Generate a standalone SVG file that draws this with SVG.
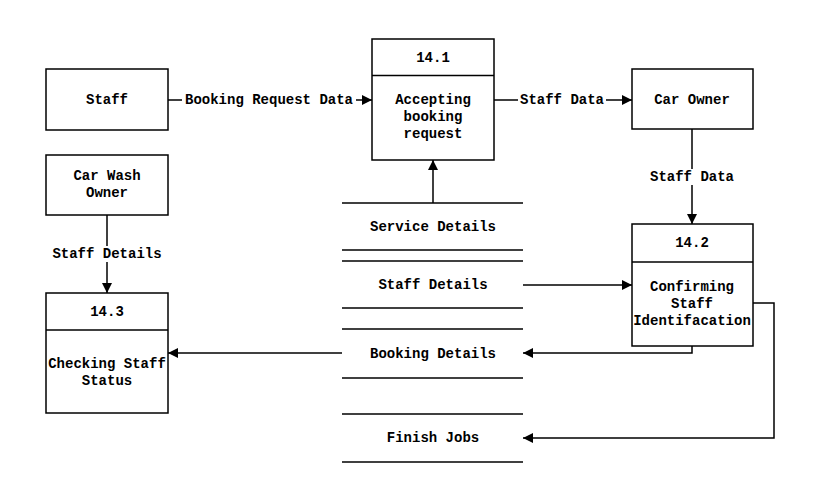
<svg xmlns="http://www.w3.org/2000/svg" width="813" height="503" viewBox="0 0 813 503">
<style>
.b{fill:#fff;stroke:#000;stroke-width:1.5}
.l{fill:none;stroke:#000;stroke-width:1.5}
text{font-family:"Liberation Mono","Courier New",monospace;font-size:14px;font-weight:bold;text-anchor:middle;fill:#000}
.lb{stroke:#fff;stroke-width:0}
</style>
<defs>
<marker id="a" viewBox="0 0 10 10" refX="10" refY="5" markerWidth="10" markerHeight="10" markerUnits="userSpaceOnUse" orient="auto">
<path d="M0,0L10,5L0,10z" fill="#000"/>
</marker>
</defs>
<rect width="813" height="503" fill="#fff"/>
<g id="connectors">
<path class="l" d="M168,100H372" marker-end="url(#a)"/>
<path class="l" d="M494,100H632" marker-end="url(#a)"/>
<path class="l" d="M692,129V224" marker-end="url(#a)"/>
<path class="l" d="M107,215V293" marker-end="url(#a)"/>
<path class="l" d="M433,203V160" marker-end="url(#a)"/>
<path class="l" d="M523,285H632" marker-end="url(#a)"/>
<path class="l" d="M692,346V353H523" marker-end="url(#a)"/>
<path class="l" d="M753,303H774V438H523" marker-end="url(#a)"/>
<path class="l" d="M342,353H168" marker-end="url(#a)"/>
<rect x="182" y="92" width="174" height="16" fill="#fff"/>
<text x="269" y="104">Booking Request Data</text>
<rect x="518" y="92" width="88" height="16" fill="#fff"/>
<text x="562" y="104">Staff Data</text>
<rect x="646" y="169" width="92" height="16" fill="#fff"/>
<text x="692" y="181">Staff Data</text>
<rect x="50" y="246" width="114" height="16" fill="#fff"/>
<text x="107" y="258">Staff Details</text>
</g>
<g id="staff">
<rect class="b" x="46" y="69" width="122" height="61"/>
<text x="107" y="104">Staff</text>
</g>
<g id="p14_1">
<rect class="b" x="372" y="39" width="122" height="121"/>
<line class="l" x1="372" y1="75.5" x2="494" y2="75.5"/>
<text x="433" y="62">14.1</text>
<text x="433" y="104">Accepting</text>
<text x="433" y="121">booking</text>
<text x="433" y="138">request</text>
</g>
<g id="carowner">
<rect class="b" x="632" y="69" width="121" height="60"/>
<text x="692" y="104">Car Owner</text>
</g>
<g id="carwashowner">
<rect class="b" x="46" y="155" width="122" height="60"/>
<text x="107" y="180">Car Wash</text>
<text x="107" y="197">Owner</text>
</g>
<g id="p14_3">
<rect class="b" x="46" y="293" width="122" height="120"/>
<line class="l" x1="46" y1="330" x2="168" y2="330"/>
<text x="107" y="316">14.3</text>
<text x="107" y="368">Checking Staff</text>
<text x="107" y="385">Status</text>
</g>
<g id="p14_2">
<rect class="b" x="632" y="224" width="121" height="122"/>
<line class="l" x1="632" y1="262" x2="753" y2="262"/>
<text x="692" y="247">14.2</text>
<text x="692" y="291">Confirming</text>
<text x="692" y="308">Staff</text>
<text x="692" y="325">Identifacation</text>
</g>
<g id="store_service">
<line class="l" x1="342" y1="203" x2="523" y2="203"/>
<line class="l" x1="342" y1="250" x2="523" y2="250"/>
<text x="433" y="231">Service Details</text>
</g>
<g id="store_staff">
<line class="l" x1="342" y1="261" x2="523" y2="261"/>
<line class="l" x1="342" y1="308" x2="523" y2="308"/>
<text x="433" y="289">Staff Details</text>
</g>
<g id="store_booking">
<line class="l" x1="342" y1="329" x2="523" y2="329"/>
<line class="l" x1="342" y1="378" x2="523" y2="378"/>
<text x="433" y="358">Booking Details</text>
</g>
<g id="store_finish">
<line class="l" x1="342" y1="414" x2="523" y2="414"/>
<line class="l" x1="342" y1="462" x2="523" y2="462"/>
<text x="433" y="442">Finish Jobs</text>
</g>
</svg>
